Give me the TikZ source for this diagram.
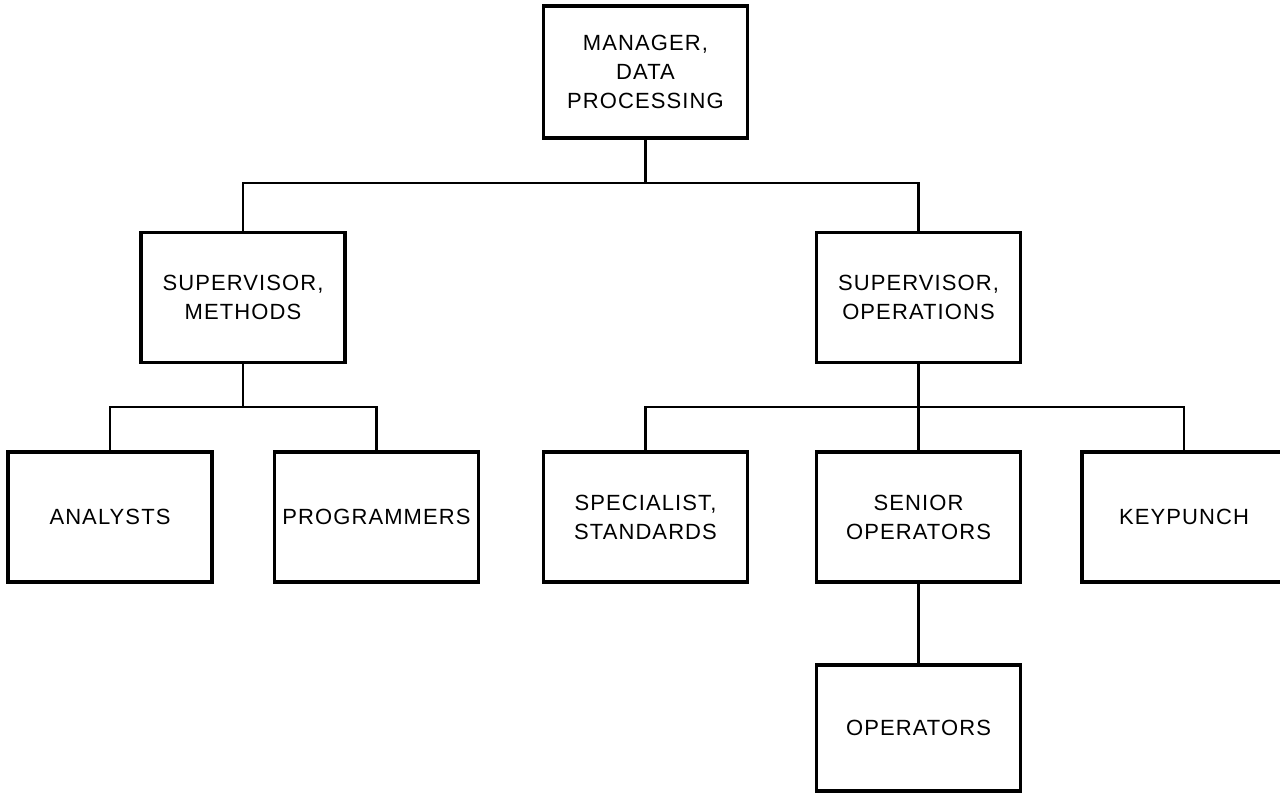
\documentclass[tikz,border=0pt]{standalone}
\usepackage{fontspec}
\setmainfont[LetterSpace=5]{Liberation Sans}
\begin{document}
\begin{tikzpicture}[x=1pt,y=-1pt,
  unit/.style={draw,line width=3.8pt,minimum width=204pt,minimum height=130pt,
    inner sep=0pt,align=center,font=\fontsize{22}{29}\selectfont},
  link/.style={line width=2.2pt}]
  \useasboundingbox (0,0) rectangle (1280,793);
  \fill[white] (0,0) rectangle (1280,793);
  % boxes
  \node[unit,minimum height=132pt] (mgr) at (645.5,72) {MANAGER,\\DATA\\PROCESSING};
  \node[unit] (supm) at (243,297.5) {SUPERVISOR,\\METHODS};
  \node[unit] (supo) at (918.5,297.5) {SUPERVISOR,\\OPERATIONS};
  \node[unit] (ana) at (110,517) {ANALYSTS};
  \node[unit] (prog) at (376.5,517) {PROGRAMMERS};
  \node[unit] (spec) at (645.5,517) {SPECIALIST,\\STANDARDS};
  \node[unit] (sen) at (918.5,517) {SENIOR\\OPERATORS};
  \node[unit] (key) at (1184,517) {KEYPUNCH};
  \node[unit,minimum height=126pt] (ops) at (918.5,728) {OPERATORS};
  % bus levels
  \coordinate (bus1) at (0,183);
  \coordinate (bus2) at (0,407);
  % connectors
  \draw[link] (mgr.south) -- (mgr.south |- bus1);
  \draw[link] (supm.north) -- (supm.north |- bus1) -- (supo.north |- bus1) -- (supo.north);
  \draw[link] (supm.south) -- (supm.south |- bus2);
  \draw[link] (ana.north) -- (ana.north |- bus2) -- (prog.north |- bus2) -- (prog.north);
  \draw[link] (supo.south) -- (sen.north);
  \draw[link] (spec.north) -- (spec.north |- bus2) -- (key.north |- bus2) -- (key.north);
  \draw[link] (sen.south) -- (ops.north);
\end{tikzpicture}
\end{document}
